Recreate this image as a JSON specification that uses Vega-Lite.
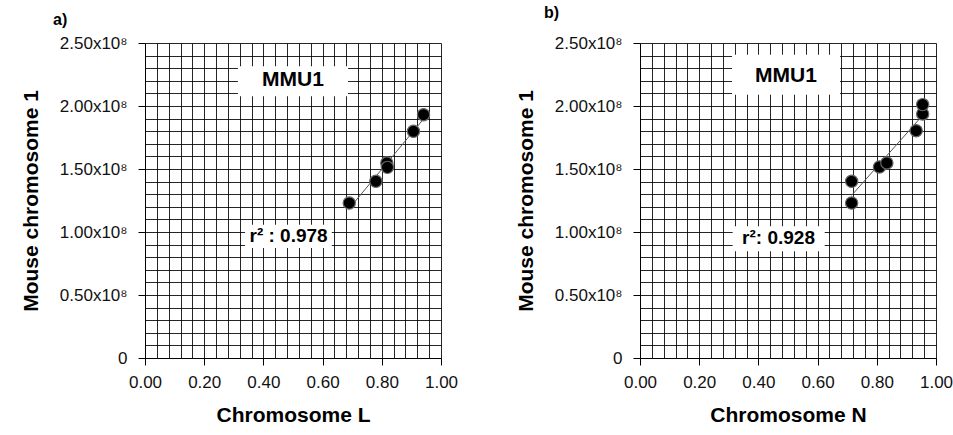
{
  "$schema": "https://vega.github.io/schema/vega-lite/v6.json",
  "padding": {"left": 20, "top": 5, "right": 5, "bottom": 5},
  "spacing": 57,
  "align": "none",
  "bounds": "full",
  "background": "white",
  "config": {
    "font": "Liberation Sans",
    "view": {"stroke": null},
    "axis": {
      "labelFont": "Liberation Sans",
      "titleFont": "Liberation Sans",
      "labelFontSize": 17,
      "labelColor": "#111",
      "titleFontSize": 21,
      "titleFontWeight": "bold",
      "titleColor": "#000",
      "gridColor": "#000",
      "gridOpacity": 0.85,
      "gridWidth": 1,
      "domainColor": "#000",
      "tickColor": "#000",
      "tickSize": 7,
      "tickCount": 30,
      "labelOverlap": false,
      "labelFlush": false,
      "labelBound": false
    },
    "title": {"font": "Liberation Sans", "fontSize": 16, "fontWeight": "bold", "anchor": "start", "frame": "group"}
  },
  "datasets": {
    "a": [
      {"x": 0.690, "y": 123000000},
      {"x": 0.780, "y": 140200000},
      {"x": 0.817, "y": 154800000},
      {"x": 0.819, "y": 151300000},
      {"x": 0.907, "y": 179900000},
      {"x": 0.941, "y": 193100000}
    ],
    "b": [
      {"x": 0.715, "y": 140200000},
      {"x": 0.715, "y": 123000000},
      {"x": 0.809, "y": 151600000},
      {"x": 0.834, "y": 154800000},
      {"x": 0.933, "y": 180400000},
      {"x": 0.955, "y": 193700000},
      {"x": 0.955, "y": 201100000}
    ],
    "boxA": [
      {"x": 0.314, "x2": 0.686, "y": 207700000, "y2": 231500000},
      {"x": 0.338, "x2": 0.631, "y": 87300000, "y2": 105800000}
    ],
    "textA": [
      {"x": 0.5, "y": 220900000, "label": "MMU1", "size": 21},
      {"x": 0.485, "y": 96600000, "label": "r² : 0.978", "size": 19}
    ],
    "boxB": [
      {"x": 0.311, "x2": 0.676, "y": 209000000, "y2": 240700000},
      {"x": 0.313, "x2": 0.624, "y": 84700000, "y2": 104500000}
    ],
    "textB": [
      {"x": 0.493, "y": 223500000, "label": "MMU1", "size": 21},
      {"x": 0.468, "y": 95200000, "label": "r²:  0.928", "size": 19}
    ]
  },
  "hconcat": [
    {
      "width": 296,
      "height": 315,
      "title": {"text": "a)", "dx": -92, "offset": 6},
      "encoding": {
        "x": {"field": "x", "type": "quantitative", "scale": {"domain": [0, 1], "nice": false},
          "axis": {"title": "Chromosome L", "tickCount": 30, "values": [0,0.04,0.08,0.12,0.16,0.2,0.24,0.28,0.32,0.36,0.4,0.44,0.48,0.52,0.56,0.6,0.64,0.68,0.72,0.76,0.8,0.84,0.88,0.92,0.96,1.0],
            "labelExpr": "abs(datum.value*5 - round(datum.value*5)) < 0.000001 ? format(datum.value, '.2f') : ''",
            "tickOpacity": {"condition": {"test": "abs(datum.value*5 - round(datum.value*5)) < 0.000001", "value": 1}, "value": 0},
            "labelPadding": 9, "titlePadding": 14}},
        "y": {"field": "y", "type": "quantitative", "scale": {"domain": [0, 250000000], "nice": false},
          "axis": {"title": "Mouse chromosome 1", "tickCount": 30, "values": [0,10000000,20000000,30000000,40000000,50000000,60000000,70000000,80000000,90000000,100000000,110000000,120000000,130000000,140000000,150000000,160000000,170000000,180000000,190000000,200000000,210000000,220000000,230000000,240000000,250000000],
            "labelExpr": "datum.value == 0 ? '0' : (datum.value % 50000000 == 0 ? format(datum.value/100000000, '.2f') + 'x10⁸' : '')",
            "tickOpacity": {"condition": {"test": "datum.value % 50000000 == 0", "value": 1}, "value": 0},
            "labelPadding": 11, "titlePadding": 18}}
      },
      "layer": [
        {
          "data": {"name": "boxA"},
          "mark": {"type": "rect", "fill": "white", "stroke": null},
          "encoding": {"x2": {"field": "x2"}, "y2": {"field": "y2"}}
        },
        {
          "data": {"name": "textA"},
          "mark": {"type": "text", "font": "Liberation Sans", "fontWeight": "bold", "color": "#000", "baseline": "middle", "align": "center"},
          "encoding": {
            "text": {"field": "label"},
            "size": {"field": "size", "type": "quantitative", "scale": null}
          }
        },
        {
          "data": {"name": "a"},
          "transform": [{"regression": "y", "on": "x"}],
          "mark": {"type": "line", "color": "#555", "strokeWidth": 1},
          "encoding": {}
        },
        {
          "data": {"name": "a"},
          "mark": {"type": "circle", "size": 150, "fill": "#000", "opacity": 1, "stroke": "#666", "strokeWidth": 1.2},
          "encoding": {}
        }
      ]
    },
    {
      "width": 296,
      "height": 315,
      "title": {"text": "b)", "dx": -96, "offset": 13},
      "encoding": {
        "x": {"field": "x", "type": "quantitative", "scale": {"domain": [0, 1], "nice": false},
          "axis": {"title": "Chromosome N", "tickCount": 30, "values": [0,0.04,0.08,0.12,0.16,0.2,0.24,0.28,0.32,0.36,0.4,0.44,0.48,0.52,0.56,0.6,0.64,0.68,0.72,0.76,0.8,0.84,0.88,0.92,0.96,1.0],
            "labelExpr": "abs(datum.value*5 - round(datum.value*5)) < 0.000001 ? format(datum.value, '.2f') : ''",
            "tickOpacity": {"condition": {"test": "abs(datum.value*5 - round(datum.value*5)) < 0.000001", "value": 1}, "value": 0},
            "labelPadding": 9, "titlePadding": 14}},
        "y": {"field": "y", "type": "quantitative", "scale": {"domain": [0, 250000000], "nice": false},
          "axis": {"title": "Mouse chromosome 1", "tickCount": 30, "values": [0,10000000,20000000,30000000,40000000,50000000,60000000,70000000,80000000,90000000,100000000,110000000,120000000,130000000,140000000,150000000,160000000,170000000,180000000,190000000,200000000,210000000,220000000,230000000,240000000,250000000],
            "labelExpr": "datum.value == 0 ? '0' : (datum.value % 50000000 == 0 ? format(datum.value/100000000, '.2f') + 'x10⁸' : '')",
            "tickOpacity": {"condition": {"test": "datum.value % 50000000 == 0", "value": 1}, "value": 0},
            "labelPadding": 11, "titlePadding": 18}}
      },
      "layer": [
        {
          "data": {"name": "boxB"},
          "mark": {"type": "rect", "fill": "white", "stroke": null},
          "encoding": {"x2": {"field": "x2"}, "y2": {"field": "y2"}}
        },
        {
          "data": {"name": "textB"},
          "mark": {"type": "text", "font": "Liberation Sans", "fontWeight": "bold", "color": "#000", "baseline": "middle", "align": "center"},
          "encoding": {
            "text": {"field": "label"},
            "size": {"field": "size", "type": "quantitative", "scale": null}
          }
        },
        {
          "data": {"name": "b"},
          "transform": [{"regression": "y", "on": "x"}],
          "mark": {"type": "line", "color": "#555", "strokeWidth": 1},
          "encoding": {}
        },
        {
          "data": {"name": "b"},
          "mark": {"type": "circle", "size": 150, "fill": "#000", "opacity": 1, "stroke": "#666", "strokeWidth": 1.2},
          "encoding": {}
        }
      ]
    }
  ]
}
